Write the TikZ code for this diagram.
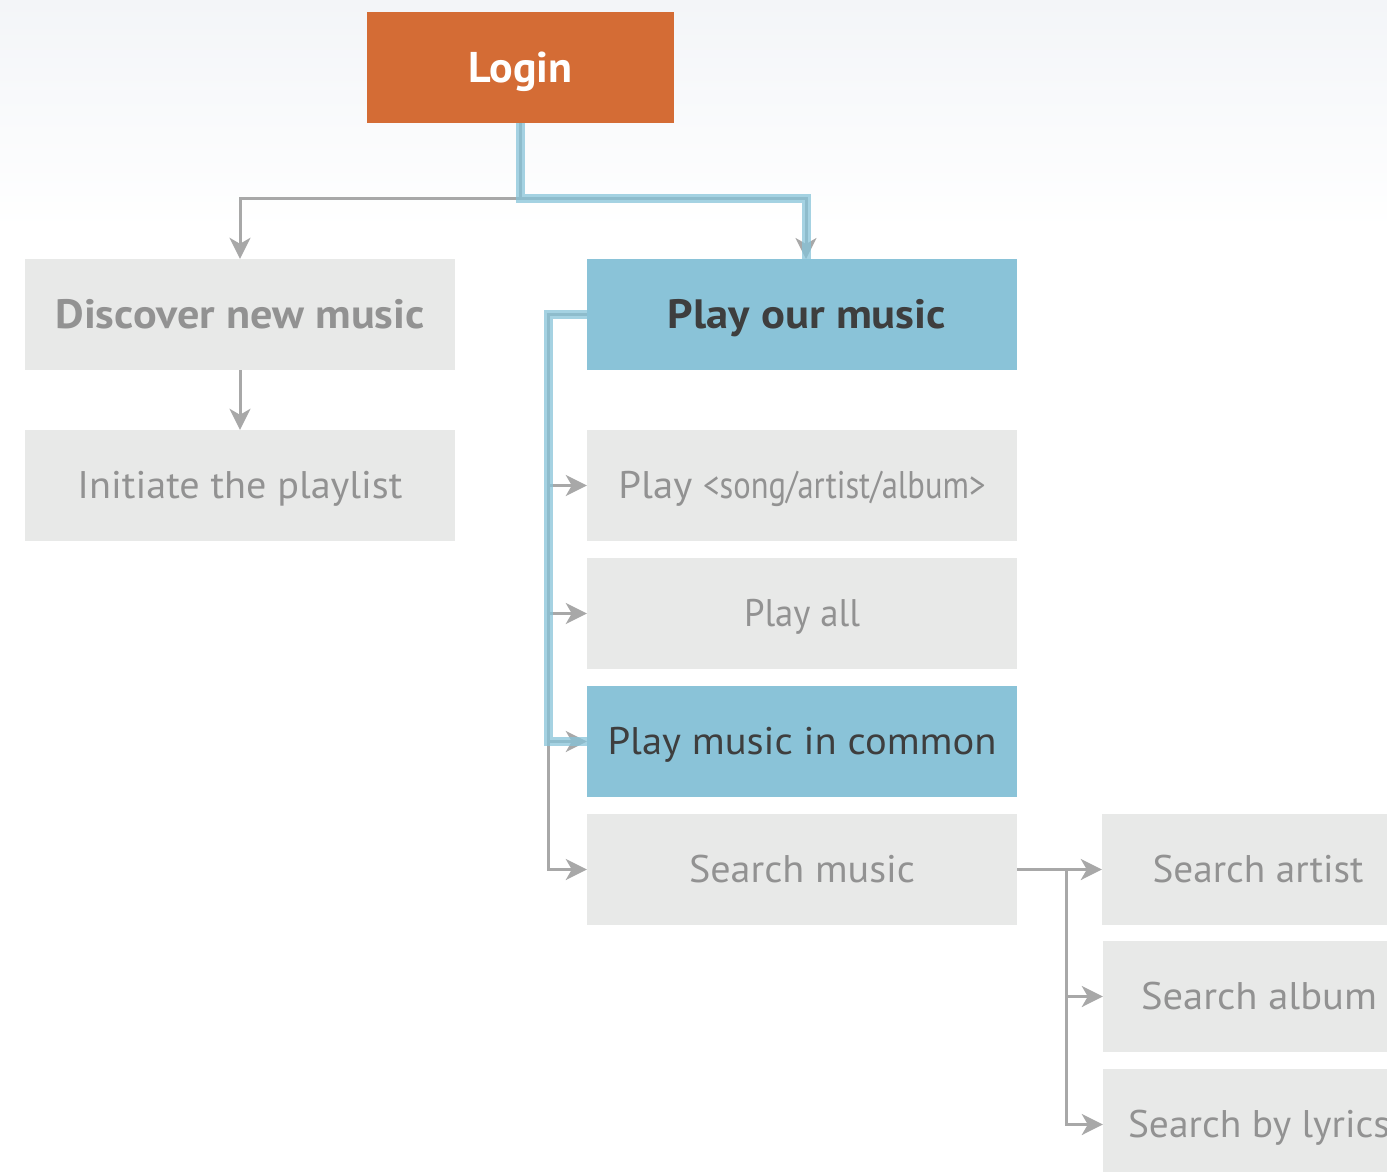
\documentclass[tikz,border=0pt]{standalone}
\usepackage{fontspec}
\setmainfont{PT Sans}
\usepackage{graphicx}
\usetikzlibrary{arrows.meta}

\definecolor{loginorange}{HTML}{D46C35}
\definecolor{hiblue}{HTML}{8AC3D8}
\definecolor{pathblue}{HTML}{86C3D9}
\definecolor{boxgray}{HTML}{E8E9E8}
\definecolor{txtgray}{HTML}{929292}
\definecolor{txtdark}{HTML}{3E3E3E}
\definecolor{linegray}{HTML}{A8A8A8}
\definecolor{bgtop}{HTML}{F3F5F8}

% squeeze a label horizontally to a given width
\newcommand\fitto[2]{\resizebox{#1}{\height}{#2}}

\begin{document}
\begin{tikzpicture}[x=1pt,y=-1pt,
  menubox/.style={rectangle, inner sep=0pt, minimum width=430pt, minimum height=111pt,
    fill=boxgray, text=txtgray, font=\fontsize{38.5}{40}\selectfont,
    text height=26pt, text depth=0pt},
  boldbox/.style={menubox, font=\bfseries\fontsize{41}{43}\selectfont, text height=28pt},
  hibox/.style={menubox, fill=hiblue, text=txtdark},
  subbox/.style={menubox, minimum width=312pt},
  gline/.style={draw=linegray, line width=3pt, line join=miter},
  garrow/.style={gline, -{Stealth[length=21pt,width=21pt,inset=6pt]}},
  bline/.style={draw=pathblue, draw opacity=0.74, line width=9pt, line join=miter}]

% page and soft top band
\useasboundingbox (0,0) rectangle (1387,1172);
\clip (0,0) rectangle (1387,1172);
\fill[white] (0,0) rectangle (1387,1172);
\shade[top color=bgtop, bottom color=white] (0,0) rectangle (1387,230);

% boxes
\node[rectangle, inner sep=0pt, minimum width=307pt, minimum height=111pt, fill=loginorange,
  text=white, font=\bfseries\fontsize{43}{45}\selectfont, text height=30pt, text depth=0pt]
  (login) at (520.5,67.5) {\fitto{104pt}{Login}};

\node[boldbox] (discover) at (240,314.5) {\fitto{369pt}{Discover new music}};
\node[menubox] (initiate) at (240,485.5) {\fitto{325pt}{Initiate the playlist}};

\node[boldbox, fill=hiblue, text=txtdark] (playour) at (802,314.5) {\hspace*{10pt}\fitto{278pt}{Play our music}};
\node[menubox] (playsong) at (802,485.5) {\fitto{367pt}{Play \scalebox{0.8}[1]{<song/artist/album>}}};
\node[menubox] (playall) at (802,613.5) {\fitto{116pt}{Play all}};
\node[hibox] (common) at (802,741.5) {\fitto{389pt}{Play music in common}};
\node[menubox] (searchmusic) at (802,869.5) {\fitto{226pt}{Search music}};

\node[subbox] (sartist) at (1258,869.5) {\fitto{211pt}{Search artist}};
\node[subbox] (salbum) at (1259,996.5) {\fitto{236pt}{Search album}};
\node[subbox] (slyrics) at (1259,1124.5) {\fitto{262pt}{Search by lyrics}};

% junction points
\coordinate (lj) at (520.5,198);
\coordinate (pj) at (806,259);
\coordinate (trunk) at (548,314.5);
\coordinate (st) at (1066,869.5);

% grey connectors
\draw[garrow] (login.south) -- (lj) -| (discover.north);
\draw[garrow] (lj) -| (pj);
\draw[garrow] (discover.south) -- (initiate.north);
\draw[garrow] (playour.west) -- (trunk) |- (searchmusic.west);
\foreach \n in {playsong,playall,common}
  \draw[garrow] (trunk |- \n.west) -- (\n.west);
\draw[garrow] (searchmusic.east) -- (sartist.west);
\draw[garrow] (st) |- (slyrics.west);
\draw[garrow] (st |- salbum.west) -- (salbum.west);

% highlighted route
\draw[bline] (login.south) -- (lj) -| (pj);
\draw[bline] (playour.west) -- (trunk) |- (common.west);
\end{tikzpicture}
\end{document}
